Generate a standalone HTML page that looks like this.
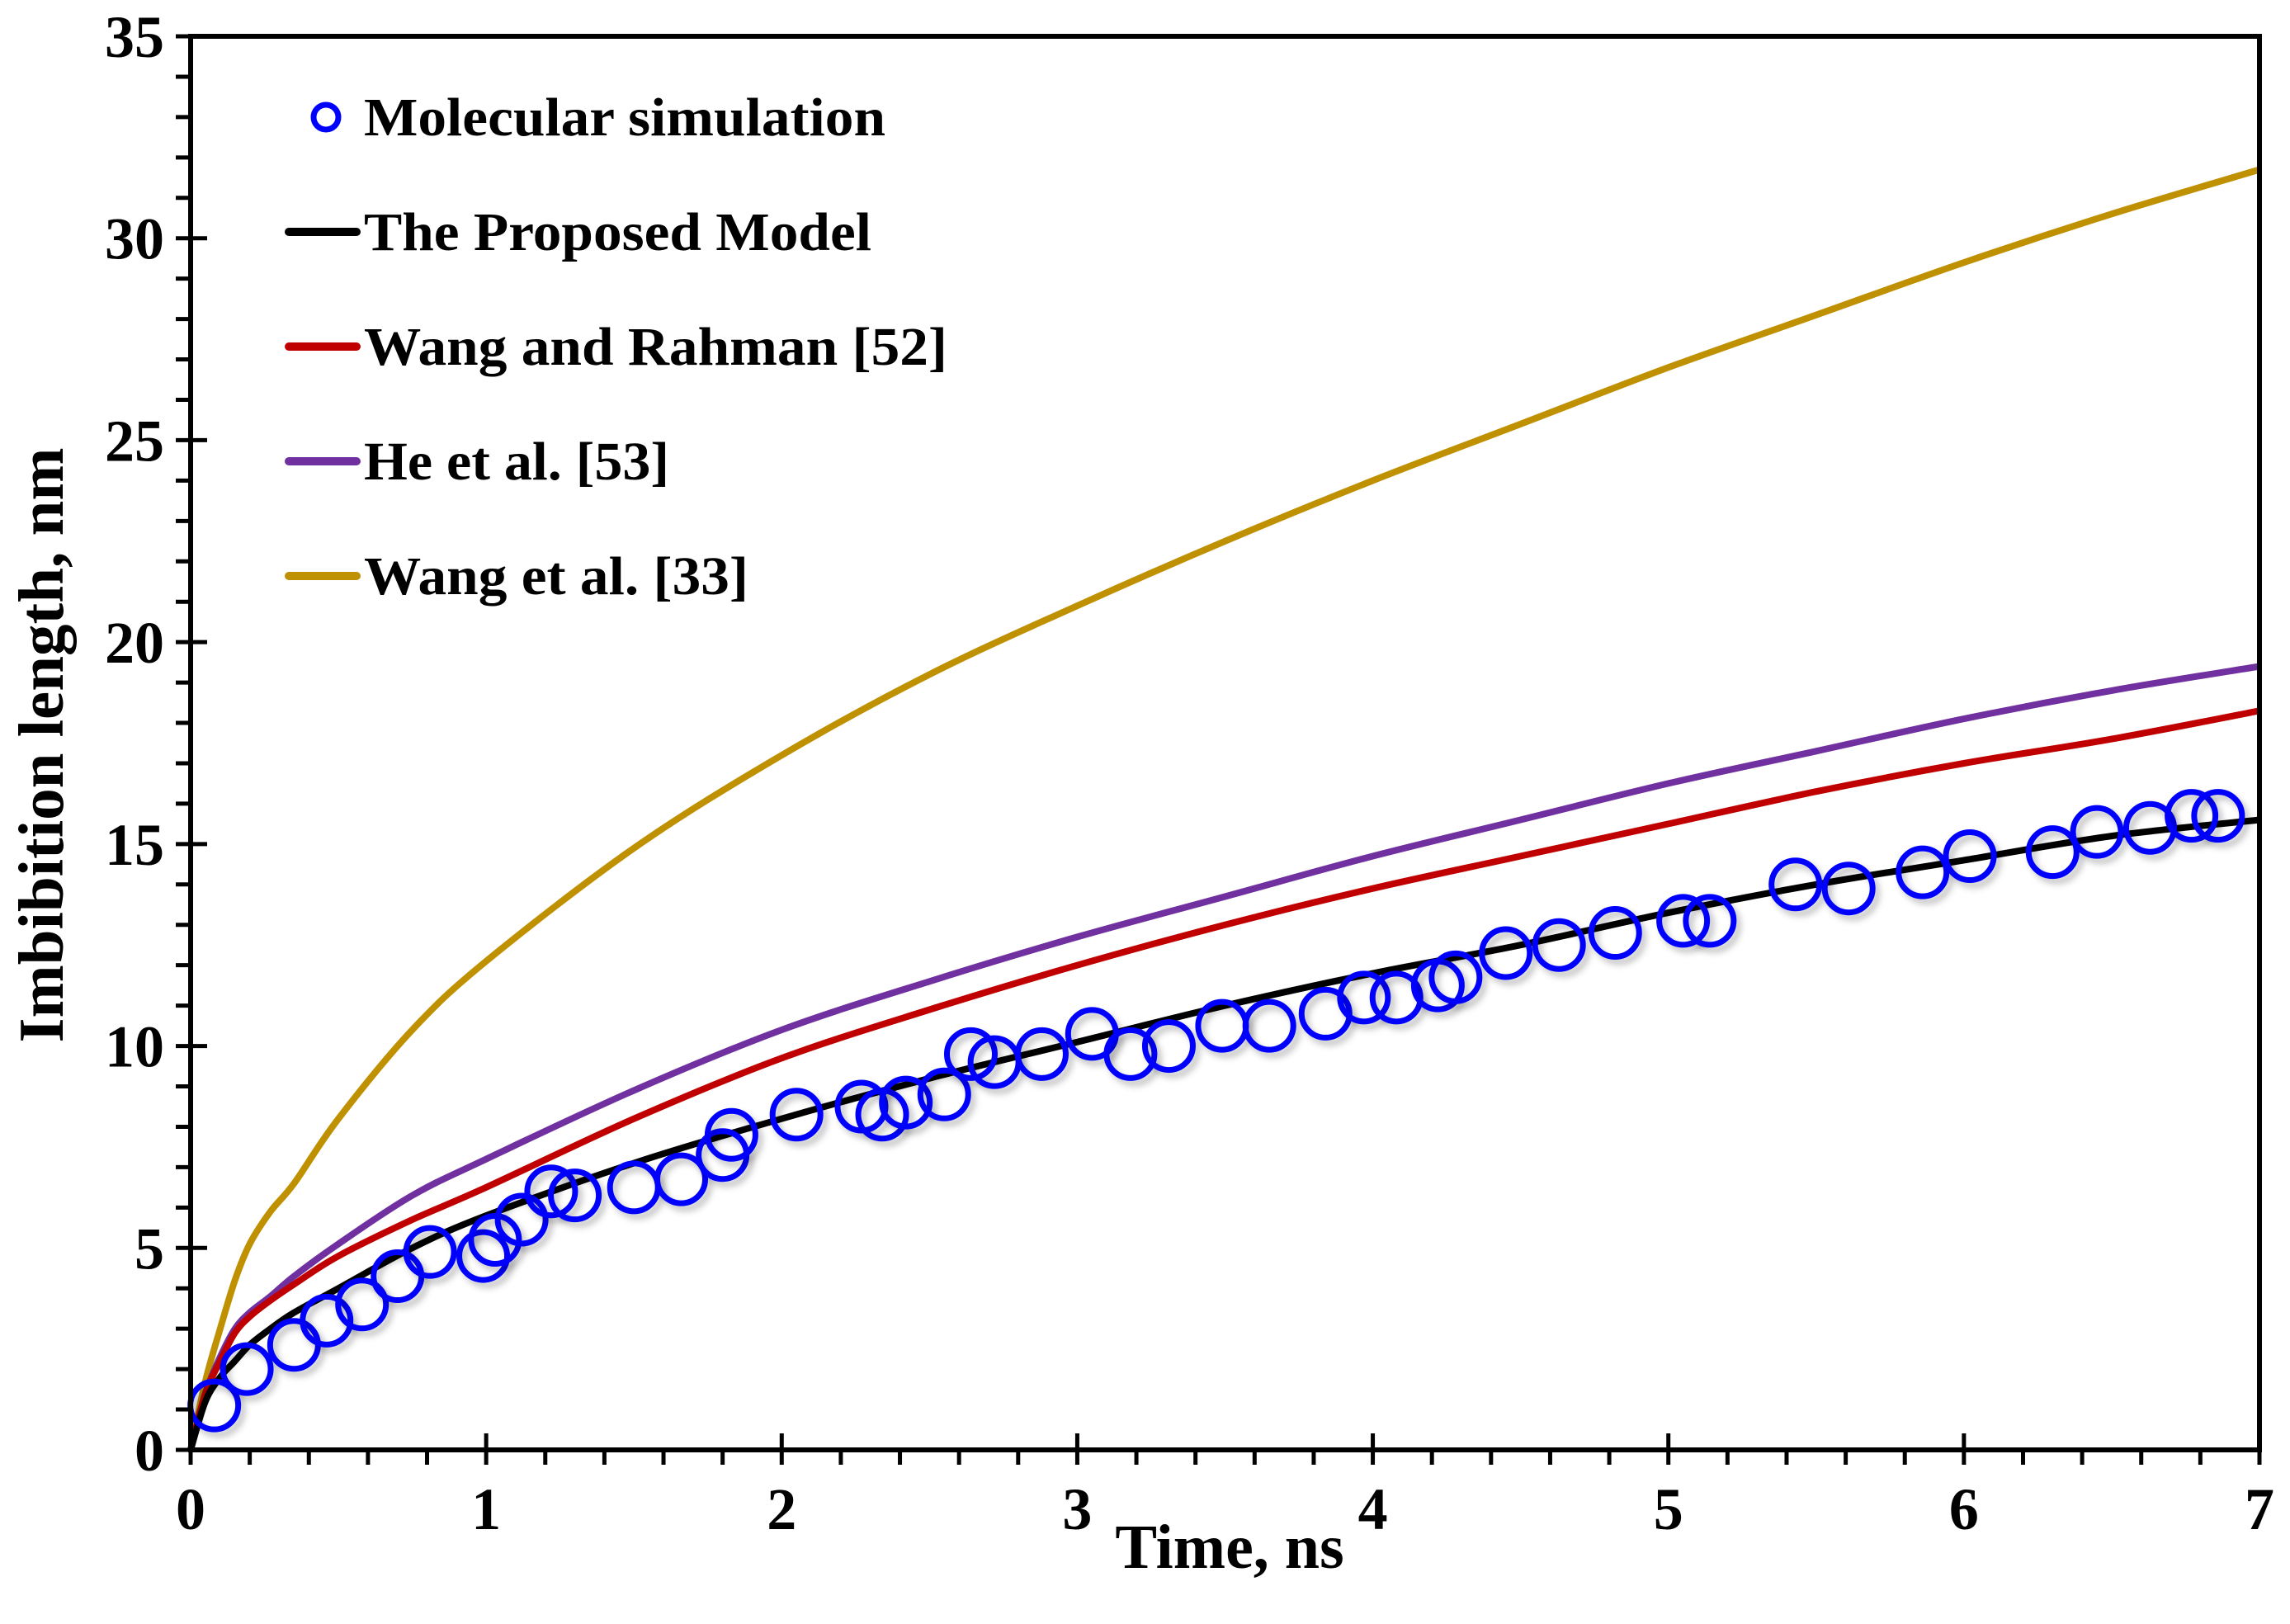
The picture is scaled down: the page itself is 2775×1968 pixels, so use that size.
<!DOCTYPE html>
<html><head><meta charset="utf-8"><style>
html,body{margin:0;padding:0;background:#fff;}
svg{display:block;font-family:"Liberation Serif",serif;font-weight:bold;}
</style></head><body>
<svg id="chart" width="2775" height="1968" viewBox="0 0 2775 1968" xmlns="http://www.w3.org/2000/svg">
<defs><filter id="sh" x="-50%" y="-50%" width="200%" height="200%"><feDropShadow dx="5" dy="6" stdDeviation="4" flood-color="#000" flood-opacity="0.25"/></filter></defs>
<g id="plot"></g>
<g id="axes"></g>
<text x="1490" y="1900" font-size="76" text-anchor="middle">Time, ns</text>
<text transform="translate(76,903) rotate(-90)" font-size="77" text-anchor="middle">Imbibition length, nm</text>
<g id="legend"></g>
</svg>
<script>
const xTicks=[0,1,2,3,4,5,6,7];
const yTicks=[0,5,10,15,20,25,30,35];
const tGrid=[0,0.05,0.1,0.15,0.2,0.27,0.35,0.5,0.75,1,1.5,2,2.5,3,3.5,4,4.5,5,5.5,6,6.5,7];
const proposed=[0,1.2,1.8,2.2,2.6,3.0,3.4,4.0,5.0,5.8,7.1,8.2,9.2,10.1,11.0,11.8,12.5,13.3,14.0,14.6,15.2,15.6];
const wangRahman=[0,1.4,2.2,2.9,3.3,3.7,4.1,4.8,5.7,6.5,8.2,9.7,10.9,12.0,13.0,13.9,14.7,15.5,16.3,17.0,17.6,18.3];
const heEtAl=[0,1.4,2.3,3.0,3.4,3.8,4.3,5.1,6.3,7.2,8.9,10.4,11.6,12.7,13.7,14.7,15.6,16.5,17.3,18.1,18.8,19.4];
const wangEtAl=[0,1.7,3.0,4.2,5.1,5.9,6.6,8.2,10.4,12.1,14.9,17.2,19.2,20.9,22.5,24.0,25.4,26.8,28.1,29.4,30.6,31.7];
const simT=[0.08,0.19,0.35,0.46,0.58,0.7,0.81,0.99,1.03,1.12,1.22,1.3,1.5,1.66,1.8,1.83,2.05,2.27,2.34,2.42,2.55,2.64,2.72,2.88,3.05,3.18,3.31,3.49,3.65,3.84,3.97,4.08,4.22,4.28,4.45,4.63,4.82,5.05,5.14,5.43,5.61,5.86,6.02,6.3,6.45,6.63,6.77,6.86];
const simL=[1.1,2.0,2.6,3.2,3.6,4.3,4.9,4.8,5.2,5.7,6.4,6.3,6.5,6.7,7.3,7.8,8.3,8.5,8.3,8.6,8.8,9.8,9.6,9.8,10.3,9.8,10.0,10.5,10.5,10.8,11.2,11.2,11.5,11.7,12.3,12.5,12.8,13.1,13.1,14.0,13.9,14.3,14.7,14.8,15.3,15.4,15.7,15.7];

const X0=231,X1=2738,Y0=1757,Y1=44;
const sx=v=>X0+(X1-X0)*v/7;
const sy=v=>Y0-(Y0-Y1)*v/35;
const NS="http://www.w3.org/2000/svg";
function mk(tag,attrs,parent){const e=document.createElementNS(NS,tag);for(const k in attrs)e.setAttribute(k,attrs[k]);parent.appendChild(e);return e;}
const plot=document.getElementById('plot'),axes=document.getElementById('axes'),legend=document.getElementById('legend');
function smooth(pts){
  let d='M'+pts[0][0].toFixed(1)+','+pts[0][1].toFixed(1);
  for(let i=0;i<pts.length-1;i++){
    const p0=pts[i-1]||pts[i],p1=pts[i],p2=pts[i+1],p3=pts[i+2]||p2;
    const c1=[p1[0]+(p2[0]-p0[0])/6,p1[1]+(p2[1]-p0[1])/6];
    const c2=[p2[0]-(p3[0]-p1[0])/6,p2[1]-(p3[1]-p1[1])/6];
    d+=` C${c1[0].toFixed(1)},${c1[1].toFixed(1)} ${c2[0].toFixed(1)},${c2[1].toFixed(1)} ${p2[0].toFixed(1)},${p2[1].toFixed(1)}`;
  }
  return d;
}
const series=[[wangEtAl,'#bf9000','wang-et-al-line'],[heEtAl,'#7030a0','he-et-al-line'],[wangRahman,'#c00000','wang-rahman-line'],[proposed,'#000000','proposed-model-line']];
series.forEach(s=>{
  const d=smooth(s[0].map((v,i)=>[sx(tGrid[i]),sy(v)]));
  const p=mk('path',{d:d,fill:'none',stroke:s[1],'stroke-width':8,'stroke-linejoin':'round'},plot);
  
  
});
simT.forEach((t,i)=>{
  const c=mk('circle',{cx:sx(t),cy:sy(simL[i]),r:29,fill:'none',stroke:'#0000ff','stroke-width':7,filter:'url(#sh)'},plot);
  
  
});

mk('path',{d:`M${X0},${Y1} L${X1},${Y1} L${X1},${Y0} L${X0},${Y0} Z`,fill:'none',stroke:'#000','stroke-width':6},axes);
for(let k=0;k<=35;k++){
  const v=k*0.2,x=sx(v),major=k%5===0;
  mk('line',{x1:x,x2:x,y1:major?Y0-20:Y0,y2:Y0+18,stroke:'#000','stroke-width':5},axes);
}
for(let v=0;v<=35;v+=1){
  const y=sy(v),major=v%5===0;
  mk('line',{x1:X0-18,x2:major?X0+20:X0,y1:y,y2:y,stroke:'#000','stroke-width':5},axes);
}
xTicks.forEach(v=>{
  const t=mk('text',{x:sx(v),y:Y0+96,'font-size':72,'text-anchor':'middle'},axes);
  t.textContent=v;
  
  
});
yTicks.forEach(v=>{
  const t=mk('text',{x:X0-32,y:sy(v)+25,'font-size':72,'text-anchor':'end'},axes);
  t.textContent=v;
  
  
});

const legLabels=['Molecular simulation','The Proposed Model','Wang and Rahman [52]','He et al. [53]','Wang et al. [33]'];
const legColors=['#0000ff','#000000','#c00000','#7030a0','#bf9000'];
const legW=[632,615,707,370,466];
legLabels.forEach((lab,i)=>{
  const y=142+i*139;
  const g=mk('g',{},legend);
  
  
  if(i===0) mk('circle',{cx:395,cy:y,r:15,fill:'none',stroke:legColors[i],'stroke-width':7},g);
  else mk('line',{x1:350,x2:432,y1:y,y2:y,stroke:legColors[i],'stroke-width':10,'stroke-linecap':'round'},g);
  const t=mk('text',{x:441,y:y+22,'font-size':66,textLength:legW[i],lengthAdjust:'spacingAndGlyphs'},g);
  t.textContent=lab;
});
</script>
</body></html>
